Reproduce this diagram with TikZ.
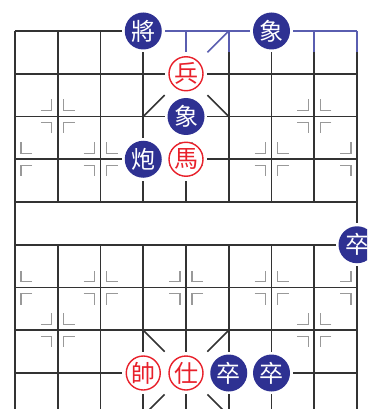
\documentclass[tikz,border=0pt]{standalone}
\usepackage{fontspec}
\newfontfamily\cjk{Noto Sans CJK TC}
\definecolor{boardline}{HTML}{333333}
\definecolor{boardblue}{HTML}{5A5EB0}
\definecolor{stargray}{HTML}{999999}
\definecolor{pieceblue}{HTML}{2E3192}
\definecolor{piecered}{HTML}{E8202A}

\begin{document}
\begin{tikzpicture}[x=42.75pt,y=-42.75pt]
    \tikzset{
        grid/.style={line width=1.6pt,draw=#1},
        grid/.default=boardline,
        starmark/.style={line width=1.1pt,draw=stargray},
        bpiece/.style={circle,fill=pieceblue,text=white,minimum size=37pt,
            inner sep=0pt,font=\cjk\fontsize{24}{24}\selectfont},
        rpiece/.style={circle,draw=piecered,line width=1.4pt,fill=white,
            text=piecered,minimum size=34pt,inner sep=0pt,
            font=\cjk\fontsize{24}{24}\selectfont}
    }

    \useasboundingbox (-15pt,31pt) rectangle (352pt,-378pt);
    \clip (-15pt,31pt) rectangle (352pt,-378pt);

    \foreach \p in {3-0,6-0,4-1,4-2,3-3,4-3,8-5,3-8,4-8,5-8,6-8}
        {\expandafter\gdef\csname occ\p\endcsname{}}
    \foreach \p in {4-0,5-0,7-0,8-0}
        {\expandafter\gdef\csname blu\p\endcsname{}}

    \foreach \i in {0,...,8}{
        \foreach \j in {0,...,9}{
            \ifcsname occ\i-\j\endcsname\else
                \ifcsname blu\i-\j\endcsname\def\lc{boardblue}\else\def\lc{boardline}\fi
                \pgfmathtruncatemacro\up{and(\j>0,or(\j!=5,or(\i==0,\i==8)))}
                \pgfmathtruncatemacro\dn{and(\j<9,or(\j!=4,or(\i==0,\i==8)))}
                \ifnum\i>0 \draw[grid=\lc] (\i,\j) -- ++(-0.5,0);\fi
                \ifnum\i<8 \draw[grid=\lc] (\i,\j) -- ++(0.5,0);\fi
                \ifnum\up=1 \draw[grid=\lc] (\i,\j) -- ++(0,-0.5);\fi
                \ifnum\dn=1 \draw[grid=\lc] (\i,\j) -- ++(0,0.5);\fi
            \fi
        }
    }

    \foreach \i/\j/\dx/\dy in {3/0/1/1,5/0/-1/1,3/2/1/-1,5/2/-1/-1,
                               3/7/1/1,5/7/-1/1,3/9/1/-1,5/9/-1/-1}{
        \ifcsname occ\i-\j\endcsname\else
            \ifcsname blu\i-\j\endcsname\def\lc{boardblue}\else\def\lc{boardline}\fi
            \draw[grid=\lc] (\i,\j) -- ++(0.5*\dx,0.5*\dy);
        \fi
    }

    \foreach \i/\j in {1/2,7/2,1/7,7/7,0/3,2/3,4/3,6/3,8/3,0/6,2/6,4/6,6/6,8/6}{
        \foreach \sx/\sy in {1/1,-1/1,1/-1,-1/-1}{
            \pgfmathtruncatemacro\ok{and(\i+\sx>=0,\i+\sx<=8)}
            \ifnum\ok=1
                \draw[starmark] ([shift={(\sx*17pt,\sy*6pt)}]\i,\j)
                    -- ([shift={(\sx*6pt,\sy*6pt)}]\i,\j)
                    -- ([shift={(\sx*6pt,\sy*17pt)}]\i,\j);
            \fi
        }
    }

    \node[bpiece] (bking) at (3,0) {將};
    \node[bpiece] (belephR) at (6,0) {象};
    \node[rpiece] (rpawn) at (4,1) {兵};
    \node[bpiece] (belephC) at (4,2) {象};
    \node[bpiece] (bcannon) at (3,3) {炮};
    \node[rpiece] (rhorse) at (4,3) {馬};
    \node[bpiece] (bpawnE) at (8,5) {卒};
    \node[rpiece] (rking) at (3,8) {帥};
    \node[rpiece] (radvisor) at (4,8) {仕};
    \node[bpiece] (bpawnA) at (5,8) {卒};
    \node[bpiece] (bpawnB) at (6,8) {卒};
\end{tikzpicture}
\end{document}
